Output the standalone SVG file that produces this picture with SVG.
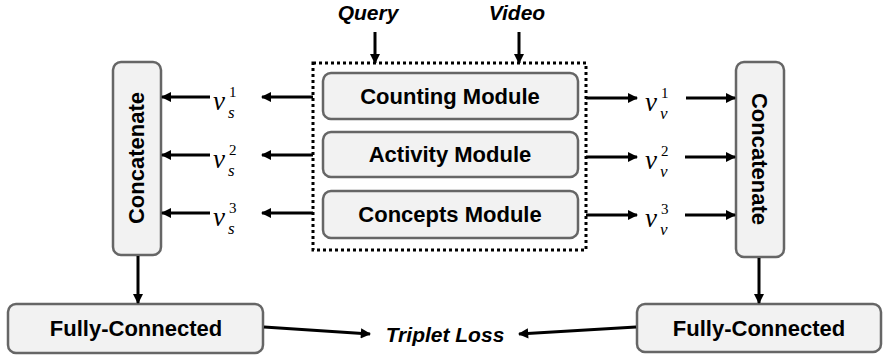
<svg xmlns="http://www.w3.org/2000/svg" width="886" height="358" viewBox="0 0 886 358">
<style>
.box{fill:#f2f2f2;stroke:#666;stroke-width:2.5}
.lbl{font-family:"Liberation Sans",Arial,sans-serif;font-weight:bold;font-size:22px;fill:#000;text-anchor:middle}
.io{font-family:"Liberation Sans",Arial,sans-serif;font-weight:bold;font-style:italic;font-size:21px;fill:#000;text-anchor:middle}
.m{font-family:"Liberation Serif","Times New Roman",serif;font-style:italic;font-size:27px;fill:#000}
.sup{font-family:"Liberation Serif","Times New Roman",serif;font-size:15px;fill:#000}
.sub{font-family:"Liberation Serif","Times New Roman",serif;font-style:italic;font-size:17px;fill:#000}
.ln{stroke:#000;stroke-width:3;fill:none;marker-end:url(#ah)}
</style>
<defs>
<marker id="ah" viewBox="0 0 10 10" refX="9" refY="5" markerWidth="3.6" markerHeight="3.4" orient="auto" markerUnits="strokeWidth">
<path d="M0,0 L10,5 L0,10 z" fill="#000"/>
</marker>
</defs>
<g id="query"><text class="io" x="368" y="20">Query</text></g>
<g id="video"><text class="io" x="517" y="20">Video</text></g>
<g id="modules">
<rect x="313" y="63" width="273" height="187" fill="none" stroke="#000" stroke-width="3" stroke-dasharray="3,3"/>
</g>
<g id="counting"><rect class="box" x="323" y="73" width="255" height="46" rx="8"/><text class="lbl" x="450" y="104">Counting Module</text></g>
<g id="activity"><rect class="box" x="323" y="132" width="255" height="45" rx="8"/><text class="lbl" x="450" y="162">Activity Module</text></g>
<g id="concepts"><rect class="box" x="323" y="191" width="255" height="47" rx="8"/><text class="lbl" x="450" y="222">Concepts Module</text></g>
<g id="concat-left"><rect class="box" x="113" y="62" width="48" height="193" rx="8"/><text class="lbl" transform="translate(144,158) rotate(-90)">Concatenate</text></g>
<g id="concat-right"><rect class="box" x="736" y="62" width="48" height="195" rx="8"/><text class="lbl" transform="translate(752,159) rotate(90)">Concatenate</text></g>
<g id="fc-left"><rect class="box" x="8" y="304" width="255" height="49" rx="8"/><text class="lbl" x="136" y="336">Fully-Connected</text></g>
<g id="fc-right"><rect class="box" x="637" y="304" width="244" height="48" rx="8"/><text class="lbl" x="759" y="336">Fully-Connected</text></g>
<g id="triplet"><text class="io" x="445" y="342">Triplet Loss</text></g>
<g id="labels">
<text class="m" x="213" y="110">v</text><text class="sup" x="229" y="97">1</text><text class="sub" x="228" y="118">s</text>
<text class="m" x="213" y="168">v</text><text class="sup" x="229" y="155">2</text><text class="sub" x="228" y="176">s</text>
<text class="m" x="213" y="226">v</text><text class="sup" x="229" y="213">3</text><text class="sub" x="228" y="234">s</text>
<text class="m" x="645" y="111">v</text><text class="sup" x="661" y="98">1</text><text class="sub" x="660" y="119">v</text>
<text class="m" x="645" y="169">v</text><text class="sup" x="661" y="156">2</text><text class="sub" x="660" y="177">v</text>
<text class="m" x="645" y="227">v</text><text class="sup" x="661" y="214">3</text><text class="sub" x="660" y="235">v</text>
</g>
<g id="connectors">
<line class="ln" x1="375" y1="32" x2="375" y2="63"/>
<line class="ln" x1="519" y1="32" x2="519" y2="63"/>
<line class="ln" x1="313" y1="97" x2="262" y2="97"/>
<line class="ln" x1="313" y1="155" x2="262" y2="155"/>
<line class="ln" x1="313" y1="213" x2="262" y2="213"/>
<line class="ln" x1="210" y1="97" x2="162" y2="97"/>
<line class="ln" x1="210" y1="155" x2="162" y2="155"/>
<line class="ln" x1="210" y1="213" x2="162" y2="213"/>
<line class="ln" x1="586" y1="98" x2="637" y2="98"/>
<line class="ln" x1="586" y1="157" x2="637" y2="157"/>
<line class="ln" x1="586" y1="215" x2="637" y2="215"/>
<line class="ln" x1="686" y1="98" x2="735" y2="98"/>
<line class="ln" x1="685" y1="157" x2="735" y2="157"/>
<line class="ln" x1="685" y1="215" x2="735" y2="215"/>
<line class="ln" x1="138" y1="256" x2="138" y2="303"/>
<line class="ln" x1="759" y1="258" x2="759" y2="303"/>
<line class="ln" x1="264" y1="327" x2="370" y2="334"/>
<line class="ln" x1="636" y1="327" x2="519" y2="334"/>
</g>
</svg>
